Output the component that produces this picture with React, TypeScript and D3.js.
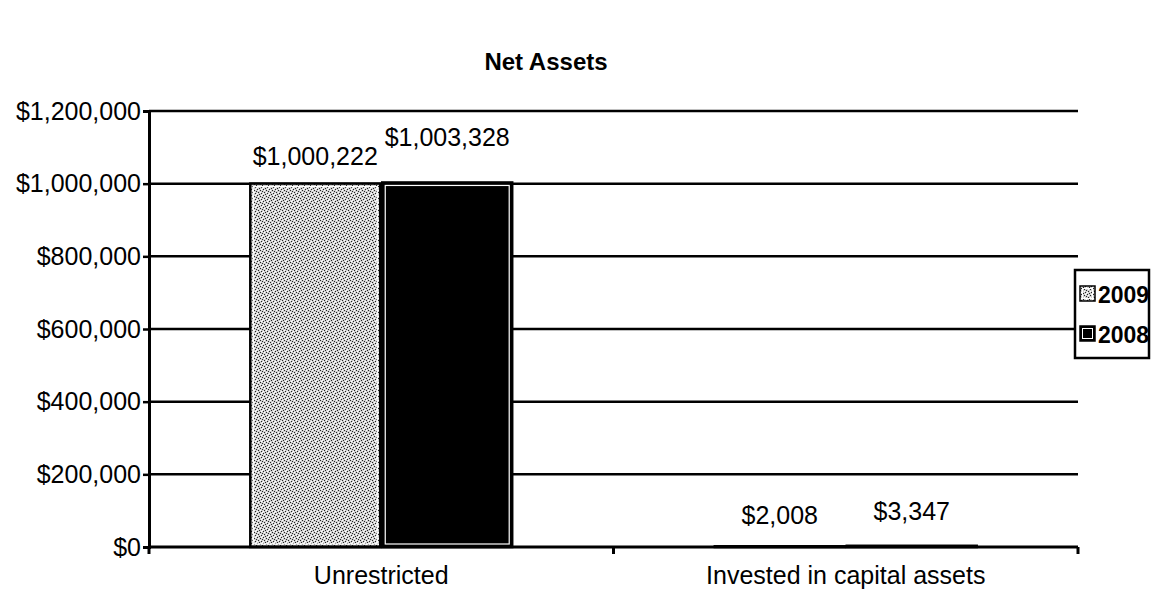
import { useEffect, useRef } from 'react'
import * as d3 from 'd3'

const categories = ['Unrestricted', 'Invested in capital assets']
const seriesNames = ['2009', '2008']
const values2009 = [1000222, 2008]
const values2008 = [1003328, 3347]
const yTicks = [0, 200000, 400000, 600000, 800000, 1000000, 1200000]

export default function App() {
  const svgRef = useRef<SVGSVGElement>(null)

  useEffect(() => {
    if (!svgRef.current) return
    const svg = d3.select(svgRef.current)
    svg.selectAll('*').remove()

    const margin = { top: 111, right: 73, bottom: 43, left: 149 }
    const width = 1151 - margin.left - margin.right
    const height = 590 - margin.top - margin.bottom
    const font = 'Liberation Sans, Arial, sans-serif'

    // speckled fill for 2009
    const defs = svg.append('defs')
    const pat = defs.append('pattern')
      .attr('id', 'speckle')
      .attr('patternUnits', 'userSpaceOnUse')
      .attr('width', 6).attr('height', 6)
    pat.append('rect').attr('width', 6).attr('height', 6).attr('fill', '#d0d0d0')
    const dots = [[0, 0], [3, 1], [1, 3], [4, 4], [5, 2], [2, 5]]
    dots.forEach(([dx, dy]) => {
      pat.append('rect').attr('x', dx).attr('y', dy).attr('width', 1).attr('height', 1).attr('fill', '#222')
    })
    const dots2 = [[1, 1], [4, 0], [0, 4], [3, 3], [5, 5]]
    dots2.forEach(([dx, dy]) => {
      pat.append('rect').attr('x', dx).attr('y', dy).attr('width', 1).attr('height', 1).attr('fill', '#fff')
    })

    svg.append('text')
      .attr('x', 546).attr('y', 70)
      .attr('text-anchor', 'middle')
      .attr('font-family', font).attr('font-weight', 'bold').attr('font-size', 24)
      .text('Net Assets')

    const chart = svg.append('g').attr('transform', `translate(${margin.left},${margin.top})`)

    const x0 = d3.scaleBand().domain(categories).range([0, width]).paddingInner(0).paddingOuter(0)
    const x1 = d3.scaleBand().domain(seriesNames).range([0, x0.bandwidth()]).paddingInner(0).paddingOuter(0.76)
    const y = d3.scaleLinear().domain([0, 1200000]).range([height, 0])

    // gridlines
    chart.append('g').selectAll('line')
      .data(yTicks.filter(d => d > 0))
      .join('line')
      .attr('x1', 0).attr('x2', width)
      .attr('y1', d => y(d)).attr('y2', d => y(d))
      .attr('stroke', '#000').attr('stroke-width', 2.5)

    const fmt = (v: number) => '$' + d3.format(',')(v)

    // y axis
    const yAxis = chart.append('g')
      .call(d3.axisLeft(y).tickValues(yTicks).tickSize(6).tickPadding(2).tickFormat(d => fmt(+d)))
    yAxis.select('.domain').attr('stroke-width', 3)
    yAxis.selectAll('.tick line').attr('stroke-width', 2.5)
    yAxis.selectAll('text').attr('font-family', font).attr('font-size', 25).attr('fill', '#000')

    // bars
    const rows = categories.map((c, i) => ({ cat: c, vals: [values2009[i], values2008[i]] }))
    const groups = chart.selectAll('g.cat')
      .data(rows)
      .join('g')
      .attr('class', 'cat')
      .attr('transform', d => `translate(${x0(d.cat)},0)`)

    groups.each(function (d) {
      const g = d3.select(this)
      d.vals.forEach((v, si) => {
        const bx = x1(seriesNames[si])!
        const bw = x1.bandwidth()
        const by = y(v)
        const bh = height - by
        g.append('rect')
          .attr('x', bx + 1).attr('y', by).attr('width', bw - 2).attr('height', bh)
          .attr('fill', si === 0 ? 'url(#speckle)' : '#000')
          .attr('stroke', '#000').attr('stroke-width', 2.5)
        if (bh > 10) {
          g.append('rect')
            .attr('x', bx + 4).attr('y', by + 3).attr('width', bw - 8).attr('height', bh - 6)
            .attr('fill', 'none').attr('stroke', '#fff').attr('stroke-width', 1.2)
        }
      })
    })

    // value labels
    const labelDy = [[-19, -36], [-22, -26]]
    groups.each(function (d, ci) {
      const g = d3.select(this)
      d.vals.forEach((v, si) => {
        g.append('text')
          .attr('x', x1(seriesNames[si])! + x1.bandwidth() / 2)
          .attr('y', y(v) + labelDy[ci][si])
          .attr('text-anchor', 'middle')
          .attr('font-family', font).attr('font-size', 25)
          .text(fmt(v))
      })
    })

    // x axis
    const xAxis = chart.append('g').attr('transform', `translate(0,${height})`)
    xAxis.append('line').attr('x1', 0).attr('x2', width).attr('stroke', '#000').attr('stroke-width', 3)
    xAxis.selectAll('line.tk')
      .data([0, x0.bandwidth(), width])
      .join('line')
      .attr('class', 'tk')
      .attr('x1', d => d).attr('x2', d => d)
      .attr('y1', 0).attr('y2', 7)
      .attr('stroke', '#000').attr('stroke-width', 3)
    xAxis.selectAll('text')
      .data(categories)
      .join('text')
      .attr('x', d => x0(d)! + x0.bandwidth() / 2)
      .attr('y', 37)
      .attr('text-anchor', 'middle')
      .attr('font-family', font).attr('font-size', 25)
      .text(d => d)

    // legend
    const lg = svg.append('g').attr('transform', 'translate(1075,270)')
    lg.append('rect').attr('x', 0).attr('y', 0).attr('width', 74).attr('height', 88)
      .attr('fill', '#fff').attr('stroke', '#000').attr('stroke-width', 2.5)
    seriesNames.forEach((s, i) => {
      const ly = 24 + i * 40
      lg.append('rect')
        .attr('x', 5).attr('y', ly - 8).attr('width', 15).attr('height', 15)
        .attr('fill', i === 0 ? 'url(#speckle)' : '#000')
        .attr('stroke', '#000').attr('stroke-width', 1.5)
      lg.append('rect')
        .attr('x', 7.5).attr('y', ly - 5.5).attr('width', 10).attr('height', 10)
        .attr('fill', 'none').attr('stroke', '#fff').attr('stroke-width', 1)
      lg.append('text')
        .attr('x', 23).attr('y', ly + 9)
        .attr('font-family', font).attr('font-weight', 'bold').attr('font-size', 23)
        .text(s)
    })
  }, [])

  return (
    <svg ref={svgRef} width={1151} height={590}
      style={{ position: 'absolute', left: 0, top: 0, background: '#fff' }} />
  )
}
